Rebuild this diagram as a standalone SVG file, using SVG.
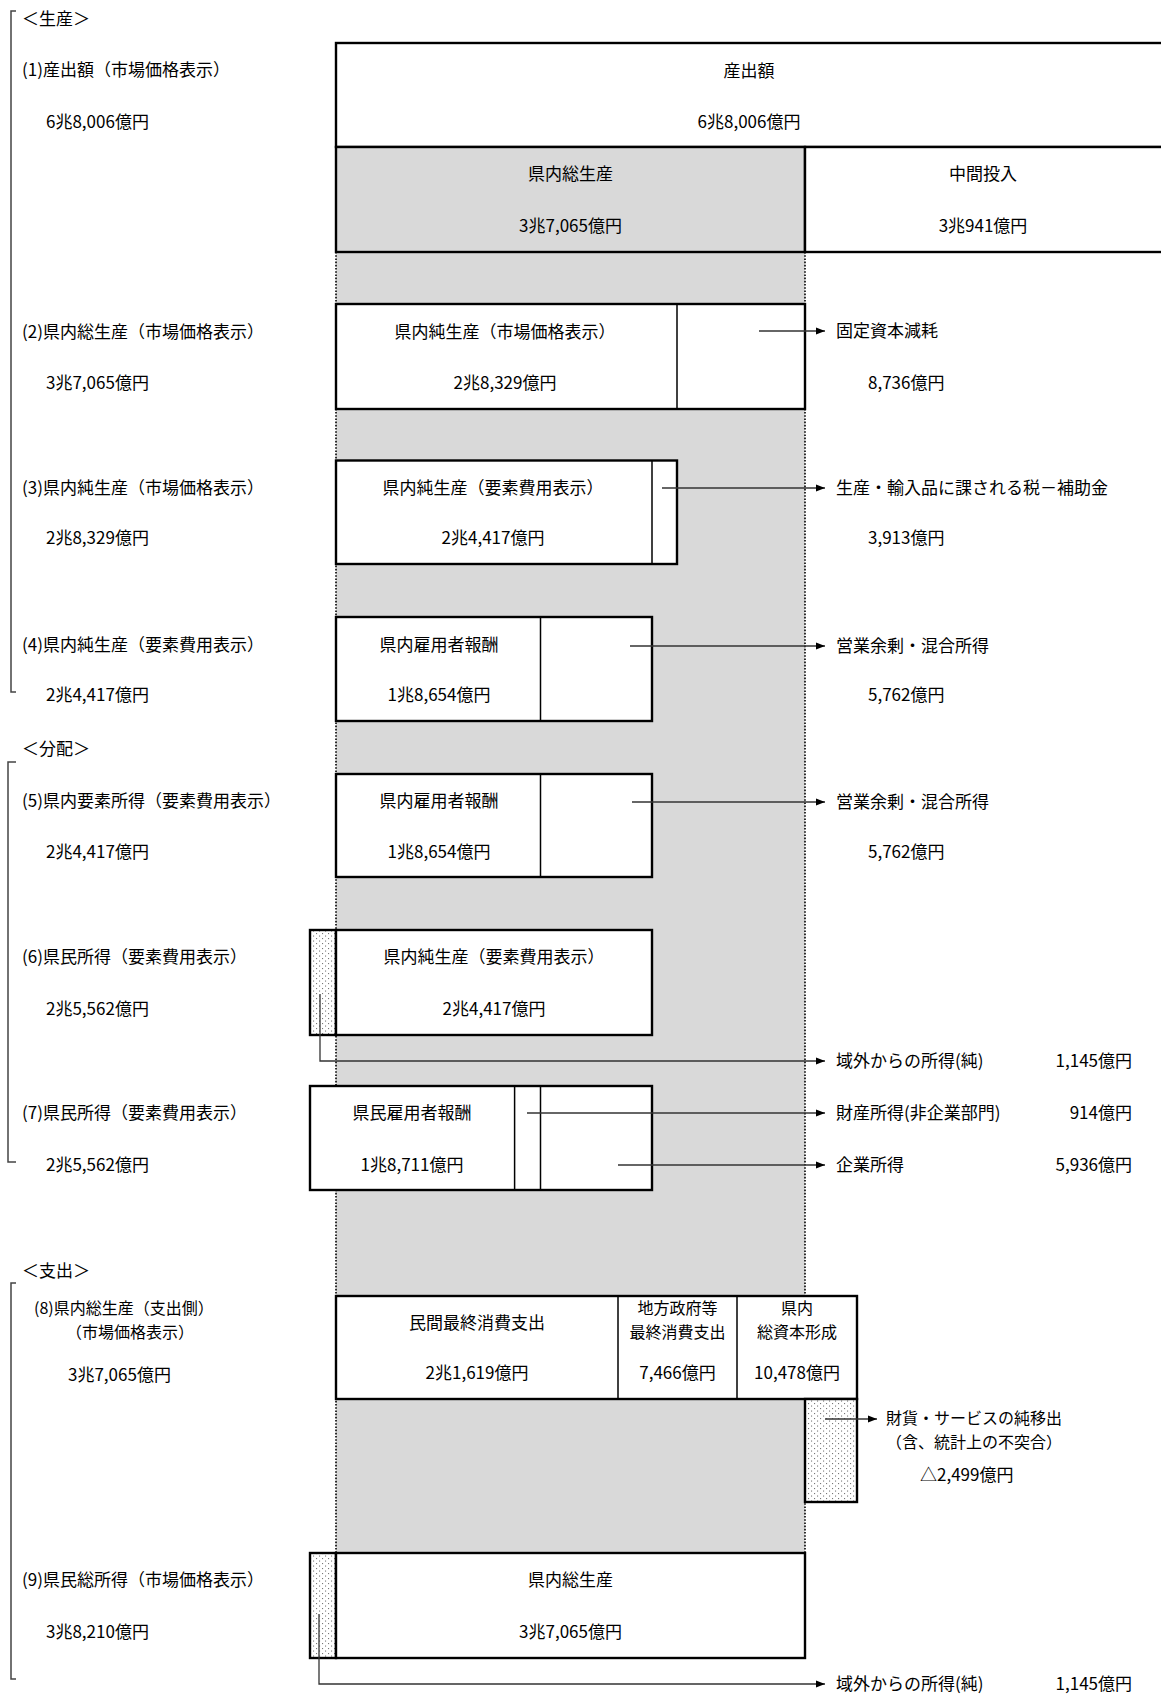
<svg xmlns="http://www.w3.org/2000/svg" width="1161" height="1695" viewBox="0 0 1161 1695">
<style>
.t{font-family:"Noto Sans CJK JP","Noto Sans CJK SC",sans-serif;font-size:17px;fill:#000}
.s{font-size:16px}
.m{text-anchor:middle}
.e{text-anchor:end}
.box{fill:#fff;stroke:#000;stroke-width:2.4}
.gbox{fill:#d9d9d9;stroke:#000;stroke-width:2.4}
.div{stroke:#000;stroke-width:1.5}
.con{stroke:#333;stroke-width:1.3;fill:none}
.br{stroke:#444;stroke-width:1.5;fill:none}
.dot{stroke:#000;stroke-width:1.6;stroke-dasharray:1.6 1.6}
.stip{fill:url(#stip);stroke:#000;stroke-width:2.4}
</style>
<defs>
<marker id="ah" markerUnits="userSpaceOnUse" markerWidth="9" markerHeight="8" refX="9" refY="4" orient="auto">
<path d="M0,0.5 L9,4 L0,7.5 z" fill="#000"/>
</marker>
<pattern id="stip" width="6" height="5" patternUnits="userSpaceOnUse">
<rect width="6" height="5" fill="#fff"/>
<rect x="1" y="0.5" width="1.1" height="1.1" fill="#777"/>
<rect x="4" y="3" width="1.1" height="1.1" fill="#777"/>
</pattern>
</defs>
<rect width="1161" height="1695" fill="#fff"/>

<g id="brackets">
<path class="br" d="M16,11 H11 V692 H16"/>
<path class="br" d="M16,762 H8 V1162 H16"/>
<path class="br" d="M16,1283 H11 V1679 H16"/>
</g>

<g id="left-labels">
<text class="t" x="22" y="25">＜生産＞</text>
<text class="t" x="22" y="76">(1)産出額（市場価格表示）</text>
<text class="t" x="46" y="128">6兆8,006億円</text>
<text class="t" x="22" y="338">(2)県内総生産（市場価格表示）</text>
<text class="t" x="46" y="389">3兆7,065億円</text>
<text class="t" x="22" y="494">(3)県内純生産（市場価格表示）</text>
<text class="t" x="46" y="544">2兆8,329億円</text>
<text class="t" x="22" y="651">(4)県内純生産（要素費用表示）</text>
<text class="t" x="46" y="701">2兆4,417億円</text>
<text class="t" x="22" y="755">＜分配＞</text>
<text class="t" x="22" y="807">(5)県内要素所得（要素費用表示）</text>
<text class="t" x="46" y="858">2兆4,417億円</text>
<text class="t" x="22" y="963">(6)県民所得（要素費用表示）</text>
<text class="t" x="46" y="1015">2兆5,562億円</text>
<text class="t" x="22" y="1119">(7)県民所得（要素費用表示）</text>
<text class="t" x="46" y="1171">2兆5,562億円</text>
<text class="t" x="22" y="1277">＜支出＞</text>
<text class="t s" x="34" y="1314">(8)県内総生産（支出側）</text>
<text class="t s" x="66" y="1338">（市場価格表示）</text>
<text class="t" x="68" y="1381">3兆7,065億円</text>
<text class="t" x="22" y="1586">(9)県民総所得（市場価格表示）</text>
<text class="t" x="46" y="1638">3兆8,210億円</text>
</g>

<g id="gray-column">
<rect x="336" y="252" width="469" height="1301" fill="#d9d9d9"/>
<line class="dot" x1="336" y1="252" x2="336" y2="1553"/>
<line class="dot" x1="805" y1="252" x2="805" y2="1553"/>
</g>

<g id="n-output">
<rect class="box" x="336" y="43" width="830" height="104"/>
<text class="t m" x="749" y="77">産出額</text>
<text class="t m" x="749" y="128">6兆8,006億円</text>
</g>
<g id="n-gdp">
<rect class="gbox" x="336" y="147" width="469" height="105"/>
<text class="t m" x="570.5" y="180">県内総生産</text>
<text class="t m" x="570.5" y="232">3兆7,065億円</text>
</g>
<g id="n-intermediate">
<rect class="box" x="805" y="147" width="361" height="105"/>
<text class="t m" x="983" y="180">中間投入</text>
<text class="t m" x="983" y="232">3兆941億円</text>
</g>

<g id="n2">
<rect class="box" x="336" y="304" width="469" height="105"/>
<line class="div" x1="677" y1="304" x2="677" y2="409"/>
<text class="t m" x="505" y="338">県内純生産（市場価格表示）</text>
<text class="t m" x="505" y="389">2兆8,329億円</text>
</g>
<g id="n3">
<rect class="box" x="336" y="460.5" width="341" height="103.5"/>
<line class="div" x1="652" y1="460.5" x2="652" y2="564"/>
<text class="t m" x="493" y="494">県内純生産（要素費用表示）</text>
<text class="t m" x="493" y="544">2兆4,417億円</text>
</g>
<g id="n4">
<rect class="box" x="336" y="617" width="316" height="104"/>
<line class="div" x1="540.5" y1="617" x2="540.5" y2="721"/>
<text class="t m" x="439" y="651">県内雇用者報酬</text>
<text class="t m" x="439" y="701">1兆8,654億円</text>
</g>
<g id="n5">
<rect class="box" x="336" y="774" width="316" height="103"/>
<line class="div" x1="540.5" y1="774" x2="540.5" y2="877"/>
<text class="t m" x="439" y="807">県内雇用者報酬</text>
<text class="t m" x="439" y="858">1兆8,654億円</text>
</g>
<g id="n6">
<rect class="stip" x="310" y="930" width="26" height="105"/>
<rect class="box" x="336" y="930" width="316" height="105"/>
<text class="t m" x="494" y="963">県内純生産（要素費用表示）</text>
<text class="t m" x="494" y="1015">2兆4,417億円</text>
</g>
<g id="n7">
<rect class="box" x="310" y="1086" width="342" height="104"/>
<line class="div" x1="514.6" y1="1086" x2="514.6" y2="1190"/>
<line class="div" x1="540.5" y1="1086" x2="540.5" y2="1190"/>
<text class="t m" x="412" y="1119">県民雇用者報酬</text>
<text class="t m" x="412" y="1171">1兆8,711億円</text>
</g>
<g id="n8">
<rect class="box" x="336" y="1296" width="521" height="103"/>
<line class="div" x1="618" y1="1296" x2="618" y2="1399"/>
<line class="div" x1="737" y1="1296" x2="737" y2="1399"/>
<text class="t m" x="477" y="1329">民間最終消費支出</text>
<text class="t m" x="477" y="1379">2兆1,619億円</text>
<text class="t s m" x="677.5" y="1314">地方政府等</text>
<text class="t s m" x="677.5" y="1338">最終消費支出</text>
<text class="t m" x="677.5" y="1379">7,466億円</text>
<text class="t s m" x="797" y="1314">県内</text>
<text class="t s m" x="797" y="1338">総資本形成</text>
<text class="t m" x="797" y="1379">10,478億円</text>
</g>
<g id="n8-netexport">
<rect class="stip" x="805" y="1399" width="52" height="103"/>
</g>
<g id="n9">
<rect class="stip" x="310" y="1553" width="26" height="105"/>
<rect class="box" x="336" y="1553" width="469" height="105"/>
<text class="t m" x="570.5" y="1586">県内総生産</text>
<text class="t m" x="570.5" y="1638">3兆7,065億円</text>
</g>

<g id="connectors">
<line class="con" x1="759" y1="331" x2="825" y2="331" marker-end="url(#ah)"/>
<line class="con" x1="662" y1="488" x2="825" y2="488" marker-end="url(#ah)"/>
<line class="con" x1="630" y1="646" x2="825" y2="646" marker-end="url(#ah)"/>
<line class="con" x1="632" y1="802" x2="825" y2="802" marker-end="url(#ah)"/>
<path class="con" d="M320,994 V1061 H825" marker-end="url(#ah)"/>
<line class="con" x1="527" y1="1113" x2="825" y2="1113" marker-end="url(#ah)"/>
<line class="con" x1="618" y1="1165" x2="825" y2="1165" marker-end="url(#ah)"/>
<line class="con" x1="825" y1="1419" x2="877" y2="1419" marker-end="url(#ah)"/>
<path class="con" d="M319,1614 V1684 H825" marker-end="url(#ah)"/>
</g>

<g id="right-labels">
<text class="t" x="836" y="337">固定資本減耗</text>
<text class="t" x="868" y="389">8,736億円</text>
<text class="t" x="836" y="494">生産・輸入品に課される税－補助金</text>
<text class="t" x="868" y="544">3,913億円</text>
<text class="t" x="836" y="652">営業余剰・混合所得</text>
<text class="t" x="868" y="701">5,762億円</text>
<text class="t" x="836" y="808">営業余剰・混合所得</text>
<text class="t" x="868" y="858">5,762億円</text>
<text class="t" x="836" y="1067">域外からの所得(純)</text>
<text class="t e" x="1132" y="1067">1,145億円</text>
<text class="t" x="836" y="1119">財産所得(非企業部門)</text>
<text class="t e" x="1132" y="1119">914億円</text>
<text class="t" x="836" y="1171">企業所得</text>
<text class="t e" x="1132" y="1171">5,936億円</text>
<text class="t s" x="886" y="1424">財貨・サービスの純移出</text>
<text class="t s" x="886" y="1448">（含、統計上の不突合）</text>
<text class="t" x="920" y="1481">△2,499億円</text>
<text class="t" x="836" y="1690">域外からの所得(純)</text>
<text class="t e" x="1132" y="1690">1,145億円</text>
</g>
</svg>
